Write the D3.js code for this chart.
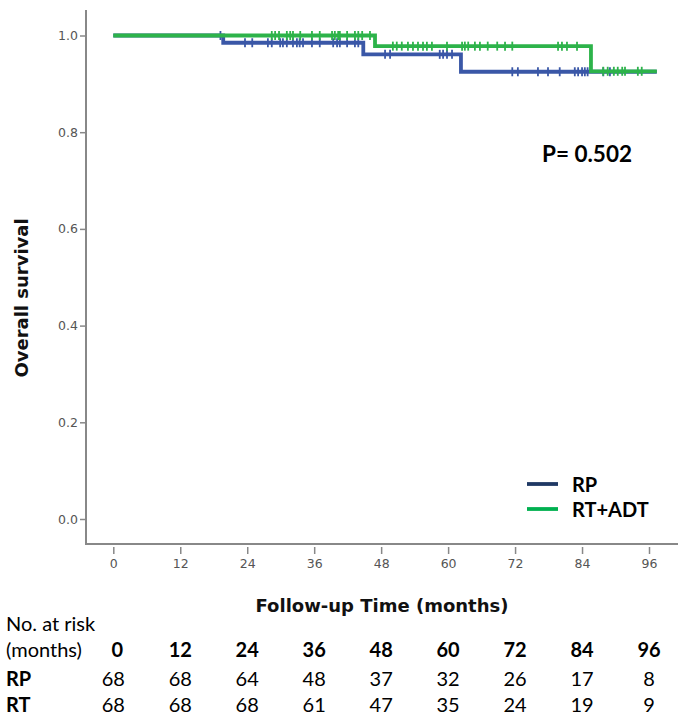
<!DOCTYPE html>
<html>
<head>
<meta charset="utf-8">
<script src="https://cdn.jsdelivr.net/npm/d3@7"></script>
<style>
  html, body { margin: 0; padding: 0; background: #fff; }
  svg { display: block; }
</style>
</head>
<body>
<div id="chart"></div>
<script>
// ---------------- DATA ----------------
const xTicks = [0, 12, 24, 36, 48, 60, 72, 84, 96];
const yTicks = [0.0, 0.2, 0.4, 0.6, 0.8, 1.0];

// Kaplan-Meier steps (time of event, survival after event)
const rpTimes = [0, 19.7, 44.8, 62.3];
const rpSurv  = [1.0, 0.985, 0.961, 0.925];
const rpEnd = 97.4;
const rtTimes = [0, 46.9, 85.6];
const rtSurv  = [1.0, 0.978, 0.926];
const rtEnd = 97.4;

// Censored observation times (months)
const rpCensor = [19.2, 23.6, 24.9, 27.7, 28.4, 29.9, 30.4, 31.1, 32.2, 32.9, 33.4, 34.0, 35.6, 37.0,
  39.4, 40.1, 40.6, 41.9, 43.3, 43.9, 48.7, 49.6, 58.5, 59.1, 59.8, 60.7,
  71.5, 72.5, 76.1, 77.9, 80.0, 82.7, 83.3, 84.0, 84.5, 85.0, 87.8, 89.0];
const rtCensor = [28.4, 29.0, 29.7, 31.1, 31.7, 32.2, 33.5, 35.6, 37.0, 39.2, 39.7, 40.3, 40.6, 41.9,
  43.3, 43.9, 44.6, 46.0, 50.1, 50.8, 51.7, 52.8, 53.7, 54.6, 55.5, 56.2, 57.1, 59.8, 62.5, 63.0,
  63.6, 64.8, 65.7, 67.1, 68.8, 70.2, 71.5, 79.7, 80.4, 81.3, 83.1, 87.8, 88.6, 89.7, 90.4, 91.2,
  91.7, 94.0, 94.7];

const seriesNames = ["RP", "RT+ADT"];
const riskTimes = [0, 12, 24, 36, 48, 60, 72, 84, 96];
const riskRP = [68, 68, 64, 48, 37, 32, 26, 17, 8];
const riskRT = [68, 68, 68, 61, 47, 35, 24, 19, 9];
const pText = "P= 0.502";

// ---------------- DRAW ----------------
const W = 685, H = 715;
const svg = d3.select("#chart").append("svg").attr("width", W).attr("height", H);

const x = d3.scaleLinear().domain([0, 96]).range([113.3, 649]);
const y = d3.scaleLinear().domain([0, 1]).range([519, 35.5]);

const axisColor = "#888";
const tickText = "#555";
const axFont = "'DejaVu Sans', Verdana, sans-serif";
const axisX0 = 86, axisY0 = 544, axisTop = 10, axisRight = 678;

// axis lines
svg.append("line").attr("x1", axisX0).attr("x2", axisX0).attr("y1", axisTop).attr("y2", axisY0)
  .attr("stroke", axisColor).attr("stroke-width", 2);
svg.append("line").attr("x1", axisX0 - 1).attr("x2", axisRight).attr("y1", axisY0).attr("y2", axisY0)
  .attr("stroke", axisColor).attr("stroke-width", 2);

// y axis
const yAxis = d3.axisLeft(y).tickValues(yTicks).tickFormat(d3.format(".1f")).tickSize(6).tickPadding(2);
const gy = svg.append("g").attr("transform", `translate(${axisX0},0)`).call(yAxis);
gy.select(".domain").remove();
gy.selectAll(".tick line").attr("stroke", axisColor).attr("stroke-width", 1.5);
gy.selectAll(".tick text").attr("fill", tickText).style("font-family", axFont).style("font-size", "12.5px");

// x axis (ticks separated from axis line)
const xAxis = d3.axisBottom(x).tickValues(xTicks).tickSize(7).tickPadding(5);
const gx = svg.append("g").attr("transform", `translate(0,${axisY0 + 3})`).call(xAxis);
gx.select(".domain").remove();
gx.selectAll(".tick line").attr("stroke", axisColor).attr("stroke-width", 1.5);
gx.selectAll(".tick text").attr("fill", tickText).style("font-family", axFont).style("font-size", "12.5px");

// axis titles
svg.append("text").attr("x", 382).attr("y", 612).attr("text-anchor", "middle")
  .style("font-family", axFont).style("font-weight", "bold").style("font-size", "18px")
  .attr("fill", "#111").text("Follow-up Time (months)");
svg.append("text").attr("transform", "translate(28,298) rotate(-90)").attr("text-anchor", "middle")
  .style("font-family", axFont).style("font-weight", "bold").style("font-size", "18px")
  .attr("fill", "#111").text("Overall survival");

// KM curves
function stepData(times, surv, end) {
  const pts = times.map((t, i) => [t, surv[i]]);
  pts.push([end, surv[surv.length - 1]]);
  return pts;
}
function survAt(times, surv, t) {
  let s = surv[0];
  for (let i = 0; i < times.length; i++) if (times[i] <= t) s = surv[i];
  return s;
}
const line = d3.line().x(d => x(d[0])).y(d => y(d[1])).curve(d3.curveStepAfter);

const blue = "#3a57a7", green = "#2db34a";
const series = [
  { times: rpTimes, surv: rpSurv, end: rpEnd, censor: rpCensor, color: blue },
  { times: rtTimes, surv: rtSurv, end: rtEnd, censor: rtCensor, color: green }
];
series.forEach(s => {
  svg.append("path").datum(stepData(s.times, s.surv, s.end)).attr("d", line)
    .attr("fill", "none").attr("stroke", s.color).attr("stroke-width", 3.8);
  svg.append("g").selectAll("line").data(s.censor).join("line")
    .attr("x1", d => x(d)).attr("x2", d => x(d))
    .attr("y1", d => y(survAt(s.times, s.surv, d)) - 4.5)
    .attr("y2", d => y(survAt(s.times, s.surv, d)) + 4.5)
    .attr("stroke", s.color).attr("stroke-width", 1.8);
});

// P value
const tf = "Lato, 'Open Sans', sans-serif";
svg.append("text").attr("x", 542).attr("y", 162)
  .style("font-family", tf).style("font-weight", "bold").style("font-size", "22.5px")
  .attr("fill", "#000").text(pText);

// legend
const legColors = ["#1f3864", "#00b050"];
seriesNames.forEach((n, i) => {
  const ly = 484 + i * 25;
  svg.append("line").attr("x1", 527).attr("x2", 558).attr("y1", ly).attr("y2", ly)
    .attr("stroke", legColors[i]).attr("stroke-width", 3.8);
  svg.append("text").attr("x", 572).attr("y", ly + 8)
    .style("font-family", tf).style("font-weight", "bold").style("font-size", "20px")
    .attr("fill", "#000").text(n);
});

// risk table
const fs = "20px";
svg.append("text").attr("x", 6).attr("y", 631).style("font-family", tf).style("font-size", fs).text("No. at risk");
svg.append("text").attr("x", 6).attr("y", 657).style("font-family", tf).style("font-size", fs).text("(months)");
svg.append("text").attr("x", 6).attr("y", 686).style("font-family", tf).style("font-size", fs).style("font-weight", "bold").text("RP");
svg.append("text").attr("x", 6).attr("y", 712).style("font-family", tf).style("font-size", fs).style("font-weight", "bold").text("RT");

const rows = [
  { vals: riskTimes, y: 657, bold: true, dx: 4 },
  { vals: riskRP, y: 686, bold: false, dx: 0 },
  { vals: riskRT, y: 712, bold: false, dx: 0 }
];
rows.forEach(r => {
  svg.append("g").selectAll("text").data(r.vals).join("text")
    .attr("x", (d, i) => x(riskTimes[i]) + (i === 0 ? r.dx : 0))
    .attr("y", r.y).attr("text-anchor", "middle")
    .style("font-family", tf).style("font-size", fs).style("font-weight", r.bold ? "bold" : "normal")
    .attr("fill", "#000").text(d => d);
});
</script>
</body>
</html>
